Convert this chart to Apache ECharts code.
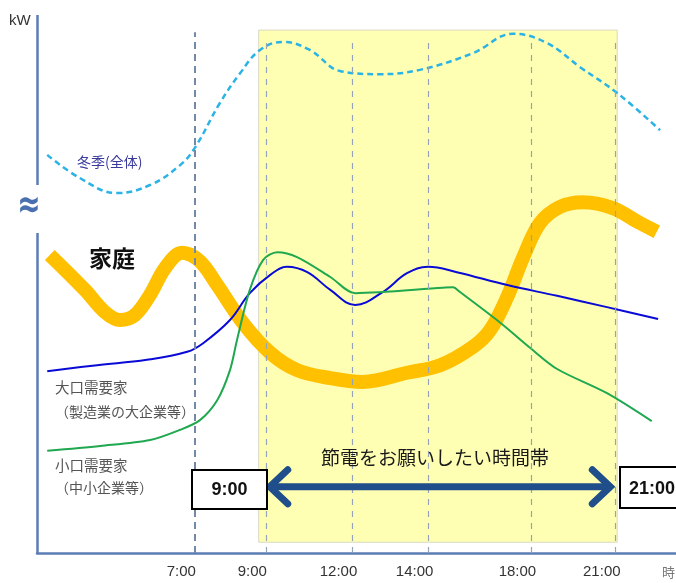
<!DOCTYPE html>
<html><head><meta charset="utf-8">
<script src="https://cdn.jsdelivr.net/npm/echarts@6/dist/echarts.min.js"></script>
<style>html,body{margin:0;padding:0;background:#fff}#c{width:676px;height:583px}</style>
</head><body><div id="c"></div>
<script>
// x axis: schematic position units (0-100), time labels placed at tickPos
const tickLabels = ['7:00', '9:00', '12:00', '14:00', '18:00', '21:00'];
const tickPos = [24.7, 35.8, 49.3, 61.2, 77.3, 90.5];
// y axis: schematic demand units (0-100), break between 59.5 and 68.4
const yBreak = [59.5, 68.4];
const peakBand = [tickPos[1] - 1.1, tickPos[5] + 0.3];

const winter = [[1.6,74.0],[6.7,69.7],[12.5,66.9],[17.7,68.4],[22.4,72.1],[24.7,75.3],[28.6,83.6],[31.8,89.2],[34.9,93.5],[38.5,95.0],[42.7,93.5],[47.4,89.6],[53.7,89.0],[59.9,89.8],[68.2,92.9],[74.5,96.5],[79.8,94.8],[85.0,90.3],[90.8,85.5],[97.5,78.6]];
const home = [[2.0,55.4],[7.5,48.9],[10.6,44.8],[13.0,43.3],[15.3,44.2],[17.7,48.0],[20.0,52.9],[22.7,55.8],[25.5,54.2],[28.2,49.8],[32.2,42.8],[36.5,37.2],[40.7,34.0],[45.9,32.5],[51.0,31.8],[57.9,33.5],[63.1,34.9],[68.2,38.3],[70.9,41.4],[73.6,47.6],[76.1,55.0],[78.7,61.3],[81.8,64.3],[85.4,65.2],[90.1,64.1],[94.4,61.3],[97.0,59.7]];
const large = [[1.6,33.8],[9.4,34.9],[17.2,35.9],[23.5,37.4],[26.0,39.0],[30.2,43.3],[33.3,48.3],[36.5,51.7],[39.1,53.2],[42.3,52.2],[45.9,48.9],[49.8,46.1],[54.1,48.5],[57.9,52.0],[61.2,53.2],[65.7,52.2],[73.6,49.8],[81.4,47.8],[89.2,45.7],[97.2,43.5]];
const small = [[1.6,19.0],[9.9,19.9],[17.7,21.0],[22.4,22.9],[25.5,24.7],[28.2,28.4],[30.2,34.0],[31.3,39.6],[33.3,48.9],[35.4,54.5],[37.6,55.9],[40.7,55.0],[45.9,51.3],[49.8,48.3],[63.5,49.3],[65.1,49.4],[66.2,48.5],[72.5,42.8],[77.2,38.1],[81.4,34.2],[89.2,29.7],[96.2,24.5]];

const chart = echarts.init(document.getElementById('c'), null, {renderer: 'canvas'});
const jp = "'Noto Sans CJK JP', sans-serif";

const vLines = tickPos.map((p, i) => [
  {coord: [p, 0], lineStyle: i === 0 ? {color: '#7389A8', width: 2, type: [7, 5]} : {color: '#95A5B5', width: 1.2, type: [6, 6]}},
  {coord: [p, i === 0 ? 96.8 : 95]}
]);
const axisSegs = [
  [{coord: [0, 0]}, {coord: [0, yBreak[0]]}],
  [{coord: [0, yBreak[1]]}, {coord: [0, 100]}]
];

chart.setOption({
  animation: false,
  grid: {left: 37, right: 0, top: 15, bottom: 30},
  xAxis: {
    type: 'value', min: 0, max: 100,
    splitLine: {show: false},
    axisTick: {show: false},
    axisLine: {show: true, lineStyle: {color: '#5B7DB5', width: 2.5}},
    axisLabel: {
      customValues: tickPos,
      formatter: v => { const i = tickPos.findIndex(p => Math.abs(p - v) < 1e-6); return i >= 0 ? tickLabels[i] : ''; },
      color: '#333', fontSize: 15,
      fontFamily: "'Liberation Sans', Arial, sans-serif",
      margin: 11, align: 'center', padding: [0, 27, 0, 0]
    }
  },
  yAxis: {
    type: 'value', min: 0, max: 100,
    splitLine: {show: false}, axisLine: {show: false}, axisTick: {show: false}, axisLabel: {show: false}
  },
  series: [
    {
      type: 'line', data: [], clip: false, silent: true,
      markArea: {silent: true, itemStyle: {color: '#FFFFB3', borderColor: '#D8D8C4', borderWidth: 1},
        data: [[{coord: [peakBand[0], 97.2]}, {coord: [peakBand[1], 2.0]}]]},
      markLine: {silent: true, symbol: ['none', 'none'], label: {show: false},
        lineStyle: {color: '#5B7DB5', width: 2.5, type: 'solid'},
        data: vLines.concat(axisSegs)}
    },
    {name: '冬季(全体)', type: 'line', data: winter, smooth: 0.4, showSymbol: false, symbol: 'none',
      lineStyle: {color: '#2BB3E6', width: 2.5, type: [6, 4]}},
    {name: '家庭', type: 'line', data: home, smooth: 0.35, showSymbol: false, symbol: 'none', clip: false,
      lineStyle: {color: '#FFC000', width: 14}},
    {name: '大口需要家', type: 'line', data: large, smooth: 0.4, showSymbol: false, symbol: 'none',
      lineStyle: {color: '#0A0AD6', width: 2}},
    {name: '小口需要家', type: 'line', data: small, smooth: 0.3, showSymbol: false, symbol: 'none',
      lineStyle: {color: '#1FA84F', width: 2}}
  ]
});

const p9 = chart.convertToPixel({gridIndex: 0}, [tickPos[1], 12.3]);
const p21 = chart.convertToPixel({gridIndex: 0}, [tickPos[5], 12.3]);
const ay = p9[1], ax1 = p9[0] + 2, ax2 = p21[0] - 3;
const arrowColor = '#1F4E8A';
const Z = 100;

chart.setOption({
  graphic: [
    {type: 'text', z: Z, left: 9, top: 13, style: {text: 'kW', font: "15px 'Liberation Sans', sans-serif", fill: '#333'}},
    {type: 'text', z: Z, x: 29, y: 207, scaleY: 1.4, style: {text: '≈', font: "bold 28px 'DejaVu Sans', sans-serif", fill: '#4A70B0', align: 'center', verticalAlign: 'middle'}},
    {type: 'text', z: Z, x: 77, y: 162, style: {text: '冬季(全体)', font: '14px ' + jp, fill: '#3B3B9E', verticalAlign: 'middle'}},
    {type: 'text', z: Z, x: 89, y: 258, style: {text: '家庭', font: 'bold 23px ' + jp, fill: '#111', verticalAlign: 'middle'}},
    {type: 'text', z: Z, x: 55, y: 387, style: {text: '大口需要家', font: '14.5px ' + jp, fill: '#555', verticalAlign: 'middle'}},
    {type: 'text', z: Z, x: 55, y: 412, style: {text: '（製造業の大企業等）', font: '14px ' + jp, fill: '#555', verticalAlign: 'middle'}},
    {type: 'text', z: Z, x: 55, y: 465, style: {text: '小口需要家', font: '14.5px ' + jp, fill: '#555', verticalAlign: 'middle'}},
    {type: 'text', z: Z, x: 55, y: 488, style: {text: '（中小企業等）', font: '14px ' + jp, fill: '#555', verticalAlign: 'middle'}},
    {type: 'text', z: Z, x: 321, y: 458, style: {text: '節電をお願いしたい時間帯', font: '19px ' + jp, fill: '#1a1a1a', verticalAlign: 'middle'}},
    {type: 'line', z: Z, shape: {x1: ax1 + 3, y1: ay, x2: ax2 - 3, y2: ay}, style: {stroke: arrowColor, lineWidth: 7}},
    {type: 'polyline', z: Z, shape: {points: [[ax1 + 20, ay - 17], [ax1 + 2, ay], [ax1 + 20, ay + 17]]}, style: {stroke: arrowColor, lineWidth: 7, lineCap: 'round', lineJoin: 'miter', fill: null}},
    {type: 'polyline', z: Z, shape: {points: [[ax2 - 20, ay - 17], [ax2 - 2, ay], [ax2 - 20, ay + 17]]}, style: {stroke: arrowColor, lineWidth: 7, lineCap: 'round', lineJoin: 'miter', fill: null}},
    {type: 'rect', z: Z, shape: {x: 192, y: 470, width: 75, height: 39}, style: {fill: '#fff', stroke: '#000', lineWidth: 2}},
    {type: 'text', z: Z + 1, x: 229.5, y: 490, style: {text: '9:00', font: "bold 18px 'Liberation Sans', sans-serif", fill: '#111', align: 'center', verticalAlign: 'middle'}},
    {type: 'rect', z: Z, shape: {x: 620, y: 467, width: 70, height: 41}, style: {fill: '#fff', stroke: '#000', lineWidth: 2}},
    {type: 'text', z: Z + 1, x: 652, y: 489, style: {text: '21:00', font: "bold 18px 'Liberation Sans', sans-serif", fill: '#111', align: 'center', verticalAlign: 'middle'}},
    {type: 'text', z: Z, x: 662, y: 572, style: {text: '時', font: '13px ' + jp, fill: '#777', verticalAlign: 'middle'}}
  ]
});
</script></body></html>
